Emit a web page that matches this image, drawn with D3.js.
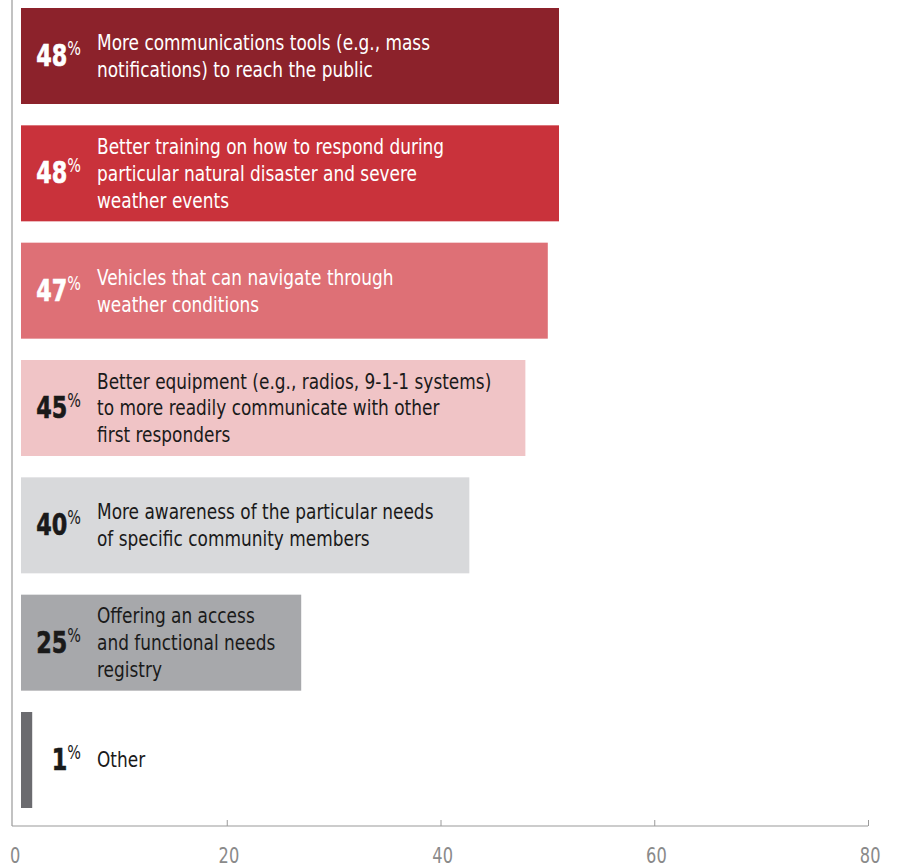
<!DOCTYPE html>
<html>
<head>
<meta charset="utf-8">
<script src="https://cdn.jsdelivr.net/npm/d3@7"></script>
<style>
  html, body { margin: 0; padding: 0; background: #fff; }
  svg { display: block; }
</style>
</head>
<body>
<svg id="chart" width="898" height="867"></svg>
<script>
// Survey answers, top to bottom
const categories = [
  "More communications tools (e.g., mass|notifications) to reach the public",
  "Better training on how to respond during|particular natural disaster and severe|weather events",
  "Vehicles that can navigate through|weather conditions",
  "Better equipment (e.g., radios, 9-1-1 systems)|to more readily communicate with other|first responders",
  "More awareness of the particular needs|of specific community members",
  "Offering an access|and functional needs|registry",
  "Other"
];
const values = [48, 48, 47, 45, 40, 25, 1];
const barColors = ["#8c222b", "#c9323b", "#de7076", "#f0c4c6", "#d8d9db", "#a7a8ab", "#6b6b6f"];
const textColors = ["#ffffff", "#ffffff", "#ffffff", "#1a1a1a", "#1a1a1a", "#1a1a1a", "#1a1a1a"];
const tickValues = [0, 20, 40, 60, 80];

const svg = d3.select("#chart");
const font = '"DejaVu Sans Condensed", "Liberation Sans Narrow", "Arial Narrow", sans-serif';

// Axis scale along the bottom
const x = d3.scaleLinear().domain([0, 80]).range([13, 868]);
// Bar length scale, starting just right of the left rule
const barX = d3.scaleLinear().domain([0, 48]).range([21, 559]);
const y = d3.scaleBand().domain(d3.range(categories.length)).range([8, 808]).paddingInner(0.1818).paddingOuter(0);

const axisY = 826;

// Left vertical rule
svg.append("line")
  .attr("x1", 12).attr("x2", 12).attr("y1", 0).attr("y2", axisY)
  .attr("stroke", "#c2c2c2").attr("stroke-width", 2);

// Bars
svg.append("g").selectAll("rect")
  .data(values)
  .join("rect")
  .attr("x", barX(0))
  .attr("y", (d, i) => y(i))
  .attr("width", d => barX(d) - barX(0))
  .attr("height", y.bandwidth())
  .attr("fill", (d, i) => barColors[i]);

// Percent labels (narrowed horizontally for a condensed look)
const pct = svg.append("g").selectAll("text")
  .data(values)
  .join("text")
  .attr("transform", (d, i) => `translate(81,${y(i) + y.bandwidth() / 2 + 10}) scale(0.8,1)`)
  .attr("text-anchor", "end")
  .attr("font-family", font)
  .attr("fill", (d, i) => textColors[i]);
pct.append("tspan")
  .attr("font-size", 31)
  .attr("font-weight", "bold")
  .attr("stroke", (d, i) => textColors[i])
  .attr("stroke-width", 0.6)
  .text(d => d);
pct.append("tspan")
  .attr("font-size", 20)
  .attr("dy", -11)
  .text("%");

// Category descriptions, one tspan per line, block centred on the bar
const lineH = 26.7;
const desc = svg.append("g").selectAll("text")
  .data(categories)
  .join("text")
  .attr("transform", "translate(97,0) scale(0.92,1)")
  .attr("font-family", font)
  .attr("font-size", 20.5)
  .attr("fill", (d, i) => textColors[i]);
desc.each(function(d, i) {
  const lines = d.split("|");
  const cy = y(i) + y.bandwidth() / 2;
  d3.select(this).selectAll("tspan")
    .data(lines)
    .join("tspan")
    .attr("x", 0)
    .attr("y", (l, j) => cy + 7.5 + (j - (lines.length - 1) / 2) * lineH)
    .text(l => l);
});

// Bottom axis
const axis = svg.append("g")
  .attr("transform", `translate(0,${axisY})`)
  .call(d3.axisBottom(x).tickValues(tickValues).tickSize(-6).tickPadding(16).tickSizeOuter(0));
axis.select(".domain").attr("stroke", "#9a9a9a").attr("stroke-width", 1.2).attr("d", `M12,0H${x(80)}`);
axis.selectAll(".tick line").attr("stroke", "#9a9a9a");
axis.selectAll(".tick").filter(d => d === 0).select("line").remove();
axis.selectAll(".tick text")
  .attr("font-family", font)
  .attr("font-size", 22)
  .attr("fill", "#8a8a8a")
  .attr("x", 2)
  .attr("dy", "0.95em")
  .attr("transform", "scale(0.82,1)");
</script>
</body>
</html>
